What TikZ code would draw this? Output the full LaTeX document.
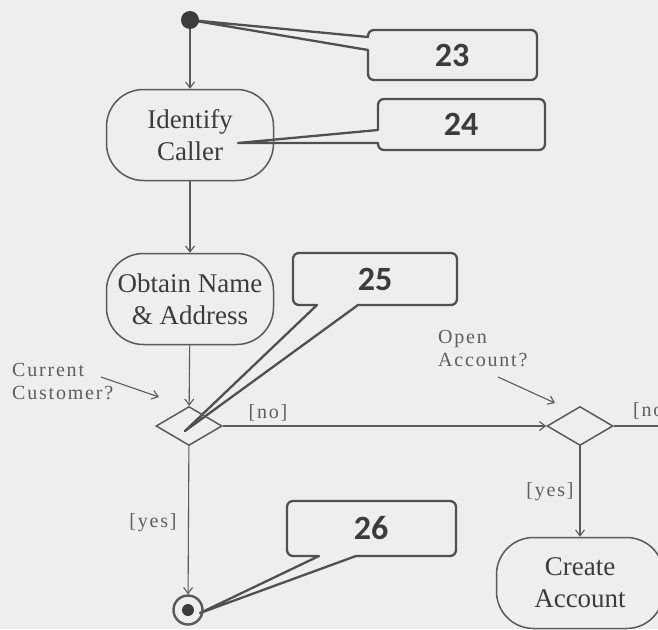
\documentclass[tikz,border=0pt]{standalone}
\usepackage{fontspec}
\setmainfont{Liberation Serif}
\newfontfamily\lblfont{Liberation Serif}[LetterSpace=9]
\newfontfamily\numfont{Carlito}
\usetikzlibrary{arrows.meta,shapes.geometric}
\definecolor{bg}{HTML}{EEEEEE}
\definecolor{ln}{HTML}{5A5A5A}
\definecolor{tx}{HTML}{3C3C3C}
\definecolor{lb}{HTML}{5E5E5E}
\definecolor{cb}{HTML}{505050}
\tikzset{
  arr/.style={draw=ln, line width=1.1pt, -{Straight Barb[length=6pt,width=9pt]}},
  plain/.style={draw=ln, line width=1.1pt},
  act/.style={draw=ln, line width=1.5pt, rounded corners=37pt, minimum width=167pt, minimum height=91pt,
    inner sep=0pt, align=center, text=tx, font=\fontsize{27}{32}\selectfont},
  dec/.style={draw=ln, line width=1.5pt, diamond, minimum width=66pt, minimum height=39pt, inner sep=0pt, aspect=1.7},
  lbl/.style={text=lb, inner sep=0pt, align=left, font=\lblfont\fontsize{20}{23}\selectfont},
  num/.style={text=tx, inner sep=0pt, font=\numfont\bfseries\fontsize{34}{34}\selectfont},
  co/.style={draw=cb, line width=2.3pt, line join=round, line cap=round},
}
\begin{document}
\begin{tikzpicture}[x=1pt,y=-1pt]
\useasboundingbox (0,0) rectangle (658,629);
\clip (0,0) rectangle (658,629);
\fill[bg] (0,0) rectangle (658,629);

% callout tips (named)
\coordinate (t23) at (190,20);
\coordinate (t24) at (238,143);
\coordinate (t25) at (185,431);
\coordinate (t26) at (200,613);

% callouts
\draw[co] (368,37) [rounded corners=6pt] -- (368,30) -- (537,30) -- (537,80) -- (368,80) [sharp corners] -- (368,50) -- (t23) -- cycle;
\node[num] (n23) at (452,55) {23};
\draw[co] (378,130) [rounded corners=6pt] -- (378,99) -- (545,99) -- (545,150) -- (378,150) [sharp corners] -- (378,143) -- (t24) -- cycle;
\node[num] (n24) at (461,124) {24};
\draw[co] (317,305) [rounded corners=6pt] -- (293,305) -- (293,253) -- (457,253) -- (457,305) [sharp corners] -- (358,305) -- (t25) -- cycle;
\node[num] (n25) at (375,279) {25};
\draw[co] (319,556) [rounded corners=6pt] -- (287,556) -- (287,501) -- (456,501) -- (456,556) [sharp corners] -- (356,556) -- (t26) -- cycle;
\node[num] (n26) at (371,528) {26};

% nodes
\node[circle, fill=tx, minimum size=18pt, inner sep=0pt] (start) at (190,20) {};
\node[act] (identify) at (190,135) {Identify\\Caller};
\node[act] (obtain) at (190,299) {Obtain Name\\\& Address};
\node[dec] (d1) at (189,426) {};
\node[dec] (d2) at (580,426) {};
\node[act] (create) at (580,583) {Create\\Account};
\node[circle, draw=ln, line width=2.4pt, minimum size=29pt, inner sep=0pt] (final) at (188,610) {};
\fill[tx] (final.center) circle (6pt);

% connectors
\draw[arr] (start) -- (identify);
\draw[arr] (identify) -- (obtain);
\draw[arr] (obtain) -- (d1);
\draw[arr] (d1) -- (final);
\draw[arr] (d1) -- (d2);
\draw[arr] (d2) -- (create);
\coordinate (edge) at (670,426);
\draw[plain] (d2.east) -- (edge);

% guard labels
\node[lbl] (no1) at (268,413) {[no]};
\node[lbl, anchor=west] (no2) at (633,411) {[no]};
\node[lbl] (yes1) at (153,523) {[yes]};
\node[lbl] (yes2) at (550,492) {[yes]};

% decision annotations
\node[lbl, anchor=north west] (ccq) at (12,363) {Current\\Customer?};
\coordinate (ccqa) at (101,377);
\coordinate (ccqt) at (159,397);
\draw[arr] (ccqa) -- (ccqt);
\node[lbl, anchor=north west] (oaq) at (438,330) {Open\\Account?};
\coordinate (oaqa) at (498,377);
\coordinate (oaqt) at (555,403);
\draw[arr] (oaqa) -- (oaqt);
\end{tikzpicture}
\end{document}
